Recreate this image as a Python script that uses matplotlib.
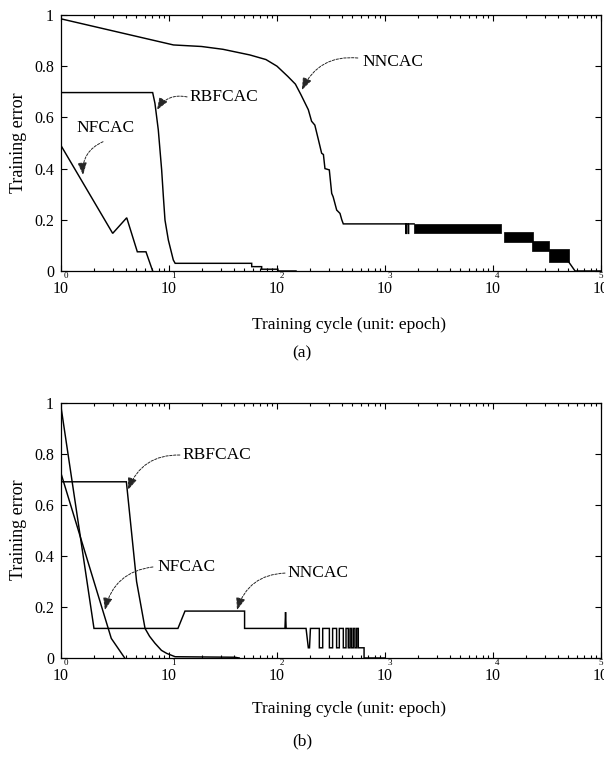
import matplotlib
matplotlib.use("Agg")
import matplotlib.pyplot as plt
from matplotlib.ticker import FixedLocator, LogLocator, NullFormatter

plt.rcParams["font.family"] = ["Liberation Serif", "DejaVu Serif"]

W, H = 604, 758

# ---------------- panel (a) ----------------
a_nncac_x = [1, 11.0, 20, 31.6, 56, 79, 100, 126, 148, 166, 195, 209, 224, 242,
             259, 269, 278, 305, 321, 331, 357, 383, 398, 411,
             1560, 1560, 1575, 1575, 1640, 1640, 1655, 1655, 1860]
a_nncac_y = [0.985, 0.883, 0.877, 0.866, 0.844, 0.826, 0.80, 0.76, 0.73, 0.69,
             0.63, 0.585, 0.57, 0.512, 0.46, 0.455, 0.40, 0.395, 0.303, 0.29,
             0.238, 0.225, 0.20, 0.184,
             0.184, 0.147, 0.147, 0.184, 0.184, 0.147, 0.147, 0.184, 0.184]
# dense oscillation zones of NNCAC (start, end, low, high)
a_band_start = [1860, 12590, 22900, 33110]
a_band_end = [11750, 23440, 33110, 50120]
a_band_low = [0.147, 0.112, 0.078, 0.036]
a_band_high = [0.184, 0.154, 0.118, 0.085]
a_nncac_tail_x = [50120, 57540, 100000]
a_nncac_tail_y = [0.036, 0.0, 0.0]

a_rbf_x = [1, 7.06, 7.41, 7.96, 8.55, 8.87, 9.18, 9.86, 10.96, 11.4,
           58.3, 58.3, 72.1, 72.1, 102, 102, 150]
a_rbf_y = [0.697, 0.697, 0.655, 0.551, 0.395, 0.29, 0.199, 0.121, 0.043, 0.030,
           0.030, 0.017, 0.017, 0.007, 0.007, 0.0, 0.0]

a_nf_x = [1, 3.01, 4.06, 5.09, 6.12, 7.06]
a_nf_y = [0.49, 0.147, 0.208, 0.075, 0.075, 0.0]

# ---------------- panel (b) ----------------
b_nncac_x = [1, 2.02, 12.1, 14.06, 50.1, 50.1, 118.5, 120, 121.5,
             185.8, 195, 200, 204]
b_nncac_y = [0.985, 0.116, 0.116, 0.184, 0.184, 0.116, 0.116, 0.18, 0.116,
             0.116, 0.04, 0.04, 0.116]
b_trough_start = [246.6, 305.5, 356.4, 411.1, 457, 490, 527]
b_trough_end = [264.9, 327.3, 377.6, 435.5, 474, 509, 547]
b_trough_low = 0.04
b_nncac_end_x = [566, 566, 640, 640, 1000]
b_nncac_end_y = [0.116, 0.04, 0.04, 0.0, 0.0]

b_rbf_x = [1, 4.03, 5.01, 6.0, 6.61, 7.41, 8.51, 9.53, 11.4, 40.7, 44.7]
b_rbf_y = [0.691, 0.691, 0.30, 0.116, 0.085, 0.058, 0.030, 0.018, 0.005, 0.003, 0.0]

b_nf_x = [1, 2.92, 3.89]
b_nf_y = [0.724, 0.077, 0.0]

ytick_vals = [0, 0.2, 0.4, 0.6, 0.8, 1.0]
ytick_labels = ["0", "0.2", "0.4", "0.6", "0.8", "1"]
xtick_vals = [1, 10, 100, 1000, 10000, 100000]
xtick_exps = ["0", "1", "2", "3", "4", "5"]


def fx(px):
    return px / W


def fy(py):
    return 1 - py / H


fig = plt.figure(figsize=(W / 100, H / 100), dpi=100)
ax_a = fig.add_axes([fx(61), fy(271), fx(601) - fx(61), fy(15) - fy(271)])
ax_b = fig.add_axes([fx(61), fy(658), fx(601) - fx(61), fy(403) - fy(658)])

line_kw = dict(color="black", lw=1.05, solid_joinstyle="miter")


def style_axes(ax):
    ax.set_xscale("log")
    ax.set_xlim(1, 1e5)
    ax.set_ylim(0, 1)
    ax.yaxis.set_major_locator(FixedLocator(ytick_vals))
    ax.set_yticklabels(ytick_labels)
    ax.xaxis.set_major_locator(FixedLocator(xtick_vals))
    ax.set_xticklabels(["10"] * len(xtick_vals))
    ax.xaxis.set_minor_locator(LogLocator(base=10, subs=range(2, 10), numticks=20))
    ax.xaxis.set_minor_formatter(NullFormatter())
    ax.tick_params(which="both", direction="in", top=True, right=True,
                   labelsize=11.5, width=0.8)
    ax.tick_params(which="major", length=4)
    ax.tick_params(which="minor", length=2.5)
    ax.tick_params(axis="x", pad=7.5)
    ax.tick_params(axis="y", pad=5)
    for s in ax.spines.values():
        s.set_linewidth(0.9)
    # decade exponents sit above the "10" labels
    for i, (xv, e) in enumerate(zip(xtick_vals, xtick_exps)):
        xpos = xv * 1.1 if i < len(xtick_vals) - 1 else xv * 0.99
        ax.text(xpos, -0.019, e, transform=ax.get_xaxis_transform(),
                ha="center", va="center", fontsize=6.5)


def arrow(ax, start, tip, rad=0.35):
    ax.annotate("", xy=tip, xytext=start,
                arrowprops=dict(arrowstyle="-|>,head_length=0.75,head_width=0.28",
                                connectionstyle=f"arc3,rad={rad}",
                                color="0.15", lw=0.7, linestyle=(0, (2.5, 1.5)),
                                shrinkA=0, shrinkB=0))


# ---- draw (a)
style_axes(ax_a)
ax_a.plot(a_nncac_x, a_nncac_y, **line_kw)
for s, e, lo, hi in zip(a_band_start, a_band_end, a_band_low, a_band_high):
    ax_a.fill_between([s, e], [lo, lo], [hi, hi], color="black", lw=0.5)
ax_a.plot(a_nncac_tail_x, a_nncac_tail_y, **line_kw)
ax_a.plot(a_rbf_x, a_rbf_y, **line_kw)
ax_a.plot(a_nf_x, a_nf_y, **line_kw)

ax_a.text(15.6, 0.68, "RBFCAC", ha="left", va="center", fontsize=12.5)
arrow(ax_a, (14.7, 0.68), (7.74, 0.629))
ax_a.text(2.61, 0.559, "NFCAC", ha="center", va="center", fontsize=12.5)
arrow(ax_a, (2.45, 0.505), (1.6, 0.375))
ax_a.text(612, 0.816, "NNCAC", ha="left", va="center", fontsize=12.5)
arrow(ax_a, (560, 0.832), (170, 0.707))

# ---- draw (b)
style_axes(ax_b)
bx = list(b_nncac_x)
by = list(b_nncac_y)
for s, e in zip(b_trough_start, b_trough_end):
    bx += [s, s, e, e]
    by += [0.116, b_trough_low, b_trough_low, 0.116]
bx += b_nncac_end_x
by += b_nncac_end_y
ax_b.plot(bx, by, **line_kw)
ax_b.plot(b_rbf_x, b_rbf_y, **line_kw)
ax_b.plot(b_nf_x, b_nf_y, **line_kw)

ax_b.text(13.2, 0.796, "RBFCAC", ha="left", va="center", fontsize=12.5)
arrow(ax_b, (12.6, 0.796), (4.17, 0.659))
ax_b.text(7.74, 0.357, "NFCAC", ha="left", va="center", fontsize=12.5)
arrow(ax_b, (7.1, 0.357), (2.55, 0.188))
ax_b.text(126, 0.333, "NNCAC", ha="left", va="center", fontsize=12.5)
arrow(ax_b, (118.6, 0.333), (42.6, 0.188))

# ---- figure-level labels
for cy in (143, 530):
    fig.text(fx(19), fy(cy), "Training error", rotation=90, ha="center",
             va="center", fontsize=13)
fig.text(fx(349), fy(325), "Training cycle (unit: epoch)", ha="center",
         va="center", fontsize=12.5)
fig.text(fx(302), fy(353), "(a)", ha="center", va="center", fontsize=12.5)
fig.text(fx(349), fy(709), "Training cycle (unit: epoch)", ha="center",
         va="center", fontsize=12.5)
fig.text(fx(302), fy(741), "(b)", ha="center", va="center", fontsize=12.5)

fig.savefig("out.png", dpi=100)
